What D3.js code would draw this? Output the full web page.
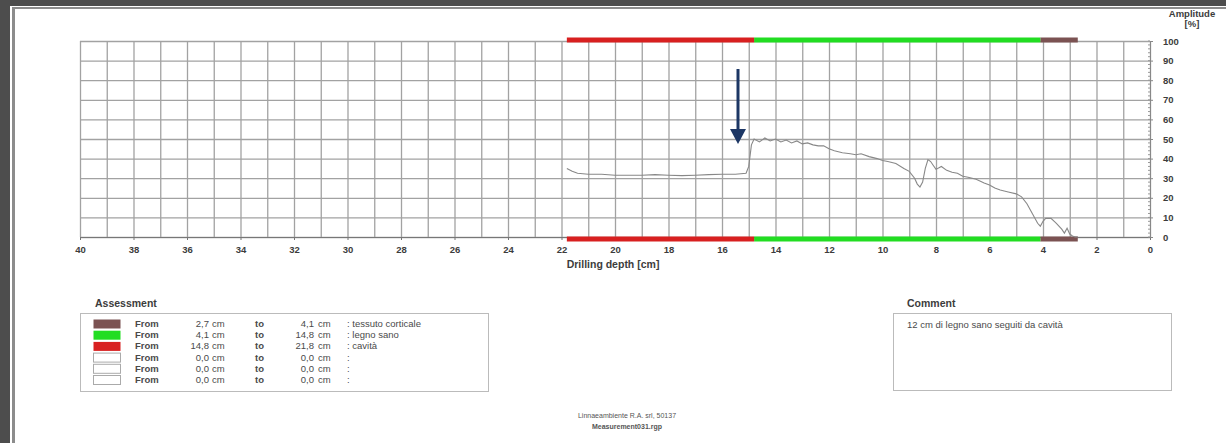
<!DOCTYPE html>
<html>
<head>
<meta charset="utf-8">
<script src="https://cdn.jsdelivr.net/npm/d3@7"></script>
<style>
  body { margin: 0; background: #4d4d4d; }
  svg { display: block; font-family: "Liberation Sans", Arial, sans-serif; }
</style>
</head>
<body>
<script>
// resistograph profile
var depth = [21.8, 21.6, 21.4, 21.0, 20.5, 20.0, 19.5, 19.0, 18.5, 18.0, 17.5, 17.0, 16.5, 16.0, 15.5, 15.1, 15.0, 14.9,
  14.8, 14.6, 14.4, 14.2, 14.0, 13.8, 13.6, 13.4, 13.2, 13.0, 12.8, 12.6, 12.4, 12.2, 12.0, 11.8, 11.5, 11.2, 11.0,
  10.8, 10.5, 10.2, 10.0, 9.8, 9.5, 9.2, 9.0, 8.8, 8.7, 8.6, 8.5, 8.4, 8.3, 8.2, 8.1, 8.0, 7.8, 7.6, 7.4, 7.2, 7.0,
  6.8, 6.5, 6.2, 6.0, 5.8, 5.6, 5.3, 5.0, 4.8, 4.6, 4.4, 4.2, 4.1, 4.0, 3.9, 3.7, 3.5, 3.3, 3.2, 3.1, 3.0, 2.9, 2.8, 2.7];
var amplitude = [35, 33.5, 32.5, 32, 32, 31.5, 31.5, 31.5, 31.8, 31.5, 31.3, 31.5, 31.8, 32, 32, 32.5, 36, 47,
  50, 48.5, 50.5, 49, 50, 48.5, 49.5, 48, 49, 47.5, 48, 47, 46.5, 46.5, 45, 44, 43, 42.5, 42,
  42.5, 41, 40, 39, 38.5, 37.5, 35, 33.5, 30, 27, 25.5, 28, 35, 39.5, 38.5, 36.5, 34.5, 36, 34, 33, 32.5, 31,
  30.5, 29.5, 27.5, 26.5, 25, 24, 23, 22, 20.5, 17, 12, 7, 5.5, 8, 9.5, 9.5, 7, 4, 2, 4.5, 1.5, 0.5, 0, 0];

// assessment segments
var segFrom = [2.7, 4.1, 14.8, 0, 0, 0];
var segTo = [4.1, 14.8, 21.8, 0, 0, 0];
var segLabel = ["tessuto corticale", "legno sano", "cavità", "", "", ""];
var segColor = ["#7b5252", "#22dd22", "#d82020", "#ffffff", "#ffffff", "#ffffff"];

var xTicks = d3.range(0, 41, 2);
var yTicks = d3.range(0, 101, 10);
var comment = "12 cm di legno sano seguiti da cavità";
var footer = ["Linnaeambiente R.A. srl, 50137", "Measurement031.rgp"];

var W = 1226, H = 443;
var svg = d3.select("body").append("svg").attr("width", W).attr("height", H);

// page frame
svg.append("rect").attr("x", 10).attr("y", 6).attr("width", W - 10).attr("height", H - 6).attr("fill", "#fff");
svg.append("line").attr("x1", 13.5).attr("x2", 13.5).attr("y1", 7).attr("y2", H)
  .attr("stroke", "#8c8c8c").attr("stroke-width", 3);
svg.append("line").attr("x1", 12).attr("x2", W).attr("y1", 8).attr("y2", 8)
  .attr("stroke", "#8c8c8c").attr("stroke-width", 2);

var x = d3.scaleLinear().domain([40, 0]).range([80, 1150]);
var y = d3.scaleLinear().domain([0, 100]).range([237, 41]);

var grid = svg.append("g");
grid.selectAll(".vg").data(d3.range(0, 41)).enter().append("line")
  .attr("x1", function(d){ return x(d) + 0.5; }).attr("x2", function(d){ return x(d) + 0.5; })
  .attr("y1", y(100)).attr("y2", y(0))
  .attr("stroke", "#a2a2a2").attr("stroke-width", 1.3);
grid.selectAll(".hg").data(yTicks).enter().append("line")
  .attr("x1", x(40)).attr("x2", x(0))
  .attr("y1", function(d){ return y(d) + 0.5; }).attr("y2", function(d){ return y(d) + 0.5; })
  .attr("stroke", "#a2a2a2").attr("stroke-width", 1.3);

// bottom axis
var xAxis = svg.append("g").attr("transform", "translate(0," + y(0) + ")")
  .call(d3.axisBottom(x).tickValues(xTicks).tickSize(3).tickFormat(d3.format("d")));
xAxis.select(".domain").attr("stroke", "#777");
xAxis.selectAll(".tick line").attr("stroke", "#777");
xAxis.selectAll("text").attr("font-size", "9.5px").attr("font-weight", "bold").attr("fill", "#3c3c3c")
  .attr("font-family", "Liberation Sans, Arial, sans-serif").attr("dy", "1.1em");

// right axis
var yAxis = svg.append("g").attr("transform", "translate(" + x(0) + ",0)")
  .call(d3.axisRight(y).tickValues(yTicks).tickSize(3));
yAxis.select(".domain").attr("stroke", "#888");
yAxis.selectAll(".tick line").attr("stroke", "#888");
yAxis.selectAll("text").attr("font-size", "9.5px").attr("font-weight", "bold").attr("fill", "#3c3c3c")
  .attr("font-family", "Liberation Sans, Arial, sans-serif").attr("x", 13);
svg.append("g").selectAll("line").data(d3.range(0, 101, 2)).enter().append("line")
  .attr("x1", x(0) - 2).attr("x2", x(0))
  .attr("y1", function(d){ return y(d); }).attr("y2", function(d){ return y(d); })
  .attr("stroke", "#999");

svg.append("text").attr("x", 1192).attr("y", 17).attr("text-anchor", "middle")
  .attr("font-size", "9.5px").attr("font-weight", "bold").attr("fill", "#3c3c3c").text("Amplitude");
svg.append("text").attr("x", 1192).attr("y", 27).attr("text-anchor", "middle")
  .attr("font-size", "9.5px").attr("font-weight", "bold").attr("fill", "#3c3c3c").text("[%]");

svg.append("text").attr("x", 613).attr("y", 268).attr("text-anchor", "middle")
  .attr("font-size", "10.5px").attr("font-weight", "bold").attr("fill", "#3c3c3c").text("Drilling depth [cm]");

// colored assessment bars, top and bottom
[y(100) - 1, y(0) + 2].forEach(function(yy){
  svg.append("g").selectAll("rect").data(d3.range(3)).enter().append("rect")
    .attr("x", function(i){ return x(segTo[i]); })
    .attr("width", function(i){ return x(segFrom[i]) - x(segTo[i]); })
    .attr("y", yy - 2.5).attr("height", 5)
    .attr("fill", function(i){ return segColor[i]; });
});

// profile
var line = d3.line()
  .x(function(d, i){ return x(depth[i]); })
  .y(function(d){ return y(d); });
svg.append("path").datum(amplitude).attr("d", line)
  .attr("fill", "none").attr("stroke", "#888").attr("stroke-width", 1.1);

// arrow
svg.append("line").attr("x1", 738).attr("x2", 738).attr("y1", 69).attr("y2", 130)
  .attr("stroke", "#1d3765").attr("stroke-width", 3);
svg.append("path").attr("d", "M730,129 L746,129 L738,144 Z").attr("fill", "#1d3765");

// assessment box
svg.append("text").attr("x", 95).attr("y", 307).attr("font-size", "10.5px").attr("font-weight", "bold")
  .attr("fill", "#3c3c3c").text("Assessment");
svg.append("rect").attr("x", 80.5).attr("y", 313.5).attr("width", 408).attr("height", 78)
  .attr("fill", "none").attr("stroke", "#bbb");
var fmt = function(v){ return v.toFixed(1).replace(".", ","); };
var rows = svg.append("g").selectAll("g").data(d3.range(segFrom.length)).enter().append("g")
  .attr("transform", function(i){ return "translate(0," + (324 + i * 11.2) + ")"; });
rows.append("rect").attr("x", 93.5).attr("y", -4.5).attr("width", 27).attr("height", 9)
  .attr("fill", function(i){ return segColor[i]; })
  .attr("stroke", function(i){ return i < 3 ? "none" : "#aaa"; });
var rowText = function(xx, anchor, f, bold){
  rows.append("text").attr("x", xx).attr("y", 3).attr("text-anchor", anchor)
    .attr("font-size", "9.5px").attr("font-weight", bold ? "bold" : "normal").attr("fill", "#4a4a4a").text(f);
};
rowText(135, "start", function(){ return "From"; }, true);
rowText(209, "end", function(i){ return fmt(segFrom[i]); });
rowText(212, "start", function(){ return "cm"; });
rowText(255, "start", function(){ return "to"; }, true);
rowText(314, "end", function(i){ return fmt(segTo[i]); });
rowText(318, "start", function(){ return "cm"; });
rowText(347, "start", function(i){ return ": " + segLabel[i]; });

// comment box
svg.append("text").attr("x", 907).attr("y", 307).attr("font-size", "10.5px").attr("font-weight", "bold")
  .attr("fill", "#3c3c3c").text("Comment");
svg.append("rect").attr("x", 893.5).attr("y", 313.5).attr("width", 278).attr("height", 77)
  .attr("fill", "none").attr("stroke", "#bbb");
svg.append("text").attr("x", 907).attr("y", 328).attr("font-size", "9.5px").attr("fill", "#4a4a4a").text(comment);

// footer
footer.forEach(function(t, i){
  svg.append("text").attr("x", 627).attr("y", 418 + i * 11).attr("text-anchor", "middle")
    .attr("font-size", "7px").attr("font-weight", i ? "bold" : "normal").attr("fill", "#555").text(t);
});
</script>
</body>
</html>
